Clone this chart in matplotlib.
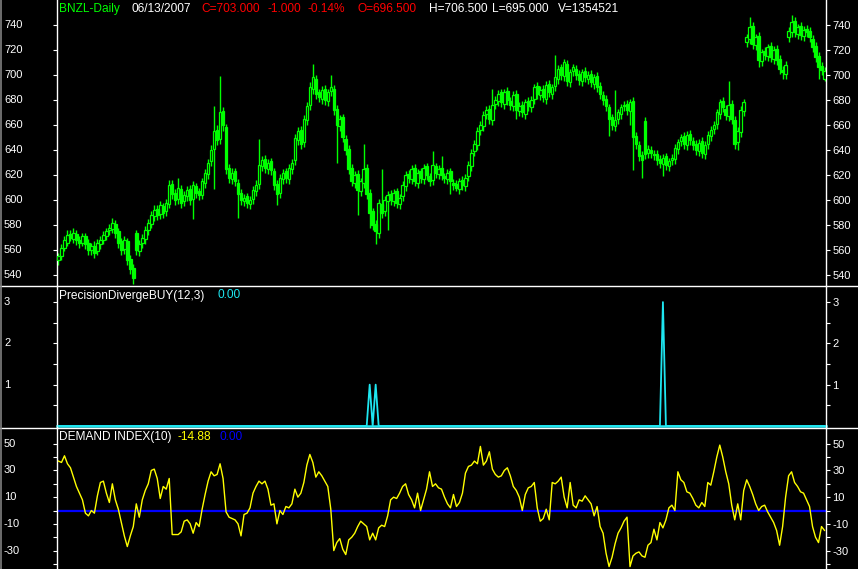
import numpy as np
import matplotlib
matplotlib.use("Agg")
import matplotlib.pyplot as plt
from matplotlib.lines import Line2D
from matplotlib.transforms import blended_transform_factory

# ---------------- data ----------------
opens = [
    552, 555, 562, 566, 573, 569, 573, 568, 566, 571,
    566, 560, 563, 559, 565, 568, 571, 576, 577, 581,
    575, 567, 561, 567, 553, 546, 574, 559, 566, 569,
    576, 581, 587, 593, 589, 595, 591, 597, 613, 606,
    601, 609, 599, 603, 609, 601, 611, 607, 604, 614,
    621, 631, 641, 656, 649, 671, 658, 626, 617, 623,
    614, 606, 599, 603, 597, 601, 607, 613, 627, 633,
    625, 631, 623, 613, 606, 617, 623, 617, 625, 632,
    648, 656, 646, 664, 676, 689, 697, 686, 681, 689,
    679, 687, 689, 673, 659, 666, 649, 641, 626, 614,
    621, 607, 614, 626, 606, 591, 581, 574, 597, 591,
    599, 605, 599, 607, 597, 603, 611, 621, 617, 626,
    614, 623, 617, 627, 619, 616, 627, 621, 626, 619,
    617, 623, 614, 613, 609, 616, 611, 619, 627, 639,
    644, 656, 659, 669, 673, 664, 677, 679, 686, 677,
    687, 679, 675, 685, 671, 676, 669, 679, 674, 681,
    691, 684, 689, 681, 693, 685, 691, 697, 706, 699,
    709, 694, 703, 705, 701, 695, 703, 697, 701, 693,
    699, 691, 684, 681, 674, 666, 659, 665, 669, 675,
    677, 671, 679, 651, 644, 636, 663, 638, 640, 637,
    637, 633, 629, 635, 627, 632, 633, 641, 647, 651,
    644, 653, 647, 645, 639, 647, 637, 645, 651, 657,
    661, 669, 679, 673, 667, 677, 664, 646, 654, 671,
    726, 729, 739, 724, 731, 711, 719, 715, 723, 713,
    721, 713, 704, 701, 730, 734, 743, 733, 739, 731,
    737, 735, 729, 723, 715, 707, 696.5,
]
highs = [
    558, 565, 571, 576, 576, 578, 576, 571, 574, 574,
    569, 566, 567, 569, 571, 575, 578, 581, 586, 584,
    578, 570, 571, 570, 556, 549, 576, 568, 573, 579,
    585, 591, 596, 596, 599, 598, 601, 616, 616, 609,
    618, 612, 607, 611, 612, 615, 614, 610, 618, 625,
    633, 644, 675, 660, 699, 674, 661, 629, 626, 626,
    617, 609, 605, 606, 603, 611, 616, 649, 635, 636,
    633, 634, 626, 616, 621, 625, 626, 629, 633, 653,
    658, 659, 668, 678, 694, 709, 700, 689, 691, 692,
    689, 700, 692, 676, 668, 669, 652, 644, 629, 623,
    624, 618, 645, 629, 609, 594, 584, 601, 625, 603,
    607, 608, 609, 610, 605, 615, 623, 624, 628, 629,
    625, 626, 629, 630, 622, 639, 630, 628, 635, 622,
    625, 626, 617, 616, 618, 619, 621, 631, 641, 648,
    658, 663, 671, 675, 676, 689, 683, 688, 689, 689,
    690, 682, 687, 688, 678, 679, 681, 682, 683, 693,
    694, 691, 692, 695, 696, 693, 716, 708, 709, 713,
    712, 705, 709, 708, 704, 705, 706, 703, 704, 701,
    702, 694, 687, 684, 677, 669, 688, 673, 677, 679,
    680, 681, 682, 654, 647, 639, 666, 644, 643, 640,
    640, 636, 637, 638, 634, 637, 645, 649, 653, 654,
    655, 656, 650, 648, 649, 650, 647, 655, 659, 663,
    673, 681, 682, 676, 695, 680, 667, 658, 675, 681,
    733, 746, 742, 733, 734, 721, 722, 725, 726, 723,
    724, 716, 707, 711, 738, 748, 746, 741, 742, 739,
    740, 738, 732, 726, 718, 710, 706.5,
]
lows = [
    548, 552, 559, 563, 567, 566, 564, 562, 563, 561,
    556, 556, 554, 556, 561, 565, 568, 572, 574, 570,
    562, 556, 557, 548, 541, 533, 556, 555, 562, 565,
    572, 578, 583, 584, 585, 586, 587, 594, 601, 596,
    597, 594, 595, 599, 596, 585, 602, 600, 601, 610,
    617, 627, 609, 644, 645, 655, 621, 614, 613, 611,
    586, 596, 595, 594, 593, 597, 603, 609, 623, 622,
    621, 620, 608, 596, 602, 613, 614, 613, 621, 628,
    644, 641, 642, 660, 672, 685, 681, 678, 677, 676,
    675, 683, 668, 630, 655, 646, 636, 621, 611, 610,
    588, 603, 610, 601, 578, 576, 565, 570, 586, 587,
    576, 596, 595, 594, 593, 599, 607, 614, 613, 611,
    610, 614, 613, 616, 611, 612, 618, 617, 616, 614,
    613, 605, 608, 607, 605, 608, 607, 615, 623, 635,
    640, 652, 655, 665, 661, 660, 673, 675, 674, 673,
    676, 672, 671, 665, 667, 666, 665, 671, 670, 677,
    681, 680, 678, 677, 682, 681, 687, 693, 696, 695,
    691, 690, 699, 696, 692, 691, 694, 693, 690, 689,
    686, 681, 676, 671, 651, 656, 655, 661, 665, 671,
    668, 660, 624, 641, 631, 618, 633, 634, 634, 632,
    628, 626, 619, 624, 623, 628, 629, 637, 643, 641,
    640, 644, 640, 636, 635, 634, 633, 641, 647, 653,
    657, 665, 670, 664, 663, 661, 641, 640, 650, 667,
    722, 725, 721, 720, 706, 707, 712, 711, 710, 709,
    708, 701, 697, 697, 726, 730, 730, 729, 728, 727,
    730, 726, 718, 710, 697, 700, 695,
]
closes = [
    555, 562, 568, 572, 570, 574, 568, 566, 571, 565,
    560, 563, 558, 566, 568, 572, 575, 578, 582, 574,
    566, 560, 568, 552, 545, 538, 560, 565, 570, 576,
    582, 588, 592, 588, 596, 590, 598, 612, 605, 600,
    610, 598, 604, 608, 600, 612, 606, 604, 615, 622,
    630, 640, 655, 648, 670, 660, 625, 618, 622, 615,
    605, 600, 602, 598, 600, 608, 612, 628, 632, 626,
    630, 624, 612, 605, 618, 622, 618, 626, 630, 650,
    655, 645, 665, 675, 690, 698, 685, 682, 688, 680,
    686, 690, 672, 660, 665, 650, 640, 625, 615, 620,
    608, 615, 625, 605, 590, 580, 575, 598, 590, 600,
    604, 600, 606, 598, 602, 612, 620, 618, 625, 615,
    622, 618, 626, 620, 615, 628, 622, 625, 620, 618,
    622, 615, 612, 610, 615, 612, 618, 628, 638, 645,
    655, 660, 668, 672, 665, 676, 680, 685, 678, 686,
    680, 676, 684, 672, 675, 670, 678, 675, 680, 690,
    685, 688, 682, 692, 686, 690, 698, 705, 700, 710,
    695, 702, 706, 700, 696, 702, 698, 700, 694, 698,
    690, 685, 680, 675, 665, 660, 664, 670, 674, 676,
    672, 678, 650, 645, 635, 632, 637, 641, 638, 636,
    632, 630, 634, 628, 631, 634, 642, 646, 650, 645,
    652, 648, 644, 640, 646, 638, 644, 652, 656, 660,
    670, 678, 674, 668, 676, 665, 645, 655, 672, 678,
    730, 738, 725, 730, 712, 718, 716, 722, 714, 720,
    712, 705, 702, 708, 735, 742, 734, 738, 732, 736,
    734, 730, 722, 714, 706, 704, 703,
]
demand_index = [
    37, 36, 41, 35, 32, 25, 18, 13, 8, -2,
    -4, 0, -2, 11, 21, 22, 13, 6, 20, 8,
    1, -9, -19, -27, -19, -12, 5, -5, 8, 15,
    20, 30, 31, 24, 9, 18, 16, 24, -18, -18,
    -18, -16, -8, -7, -10, -17, -9, -12, 1, 12,
    22, 29, 26, 27, 35, 24, -1, -5, -6, -7,
    -10, -19, -3, -2, 2, 13, 18, 22, 20, 22,
    16, 4, 5, -10, 0, -3, 3, 2, 5, 16,
    10, 13, 21, 34, 42, 36, 25, 29, 26, 22,
    18, 1, -30, -24, -21, -29, -33, -22, -20, -17,
    -12, -8, -10, -12, -22, -17, -22, -13, -11, -12,
    -4, 8, 10, 9, 13, 18, 20, 12, 8, 2,
    13, 0, 8, 16, 29, 18, 20, 17, 16, 10,
    5, 2, 12, 3, 6, 13, 28, 33, 34, 37,
    35, 48, 34, 37, 44, 31, 27, 25, 26, 30,
    32, 26, 18, 15, 10, 0, 12, 17, 18, 21,
    2, -8, -6, 1, -7, 21, 20, 22, 25, 10,
    2, 21, 4, 2, 8, 7, 11, 8, 5, -4,
    3, -12, -17, -32, -42, -35, -25, -17, -13, -8,
    -5, -42, -34, -32, -31, -34, -35, -26, -24, -14,
    -22, -9, -13, -7, 2, 4, 0, 29, 23, 21,
    14, 13, 9, 4, 2, 6, 3, 21, 19, 29,
    40, 49, 40, 29, 20, 4, -7, 5, -7, 15,
    23, 18, 12, 5, 0, 3, 4, -1, -5, -9,
    -15, -26, -12, 10, 26, 29, 21, 18, 14, 13,
    8, 3, -12, -20, -24, -12, -14.88,
]
pdb_bars = [104, 106, 202]
pdb_values = [1, 1, 3]

price_ticks = [540, 560, 580, 600, 620, 640, 660, 680, 700, 720, 740]
pdb_ticks = [1, 2, 3]
pdb_minor = [0.5, 1.5, 2.5]
di_ticks = [-30, -10, 10, 30, 50]
di_minor = [-40, -20, 0, 20, 40]

# ---------------- styling ----------------
FONT = "Liberation Sans"
GREEN = "#00FF00"
CYAN = "#1EE6F0"
YELLOW = "#FFFF00"
BLUE = "#0000FF"
RED = "#FF0000"
WHITE = "#FFFFFF"

W_PX, H_PX = 858, 569
n = len(closes)
x = np.arange(n)
o = np.array(opens, float)
c = np.array(closes, float)
h = np.array(highs, float)
l = np.array(lows, float)
pdb = np.zeros(n)
pdb[pdb_bars] = pdb_values
di = np.array(demand_index, float)

fig = plt.figure(figsize=(W_PX / 100, H_PX / 100), dpi=100, facecolor="black")

left = 57 / W_PX
width = (826 - 57) / W_PX
ax1 = fig.add_axes([left, 1 - 286 / H_PX, width, 286 / H_PX])
ax2 = fig.add_axes([left, 1 - 428 / H_PX, width, 142 / H_PX])
ax3 = fig.add_axes([left, 0, width, 141 / H_PX])


def style(ax, ylim, major, minor, labels):
    ax.set_facecolor("black")
    ax.set_xlim(-0.5, n - 0.5)
    ax.set_ylim(*ylim)
    ax.set_xticks([])
    for s in ("top", "bottom"):
        ax.spines[s].set_visible(False)
    for s in ("left", "right"):
        ax.spines[s].set_color(WHITE)
        ax.spines[s].set_linewidth(1.0)
    ax.set_yticks(major)
    ax.set_yticklabels(labels)
    if minor:
        ax.set_yticks(minor, minor=True)
    ax.tick_params(axis="y", which="both", left=True, right=True,
                   labelleft=False, labelright=True, direction="out",
                   length=3.2, width=0.8, color=WHITE, labelcolor=WHITE,
                   pad=1.2, labelsize=8)
    for t in ax.get_yticklabels():
        t.set_fontfamily(FONT)
    tr = blended_transform_factory(fig.transFigure, ax.transData)
    for v, lab in zip(major, labels):
        ax.text(4 / W_PX, v, lab, transform=tr, ha="left", va="center",
                color=WHITE, fontsize=8, fontfamily=FONT, clip_on=False)


style(ax1, (531.2, 760), price_ticks, None, [str(v) for v in price_ticks])
style(ax2, (-0.05, 3.39), pdb_ticks, pdb_minor, [str(v) for v in pdb_ticks])
style(ax3, (-43.8, 61.8), di_ticks, di_minor, [str(v) for v in di_ticks])

# ---- price candles ----
ax1.vlines(x, l, h, color=GREEN, linewidth=1.0, zorder=2)
up = c >= o
body_lo = np.minimum(o, c)
body_h = np.maximum(np.abs(c - o), 0.8)
ax1.bar(x[up], body_h[up], bottom=body_lo[up], width=0.85,
        facecolor="black", edgecolor=GREEN, linewidth=0.9, zorder=3)
ax1.bar(x[~up], body_h[~up], bottom=body_lo[~up], width=0.85,
        facecolor=GREEN, edgecolor=GREEN, linewidth=0.9, zorder=3)

# ---- PrecisionDivergeBUY ----
ax2.plot(x, pdb, color=CYAN, linewidth=1.3, clip_on=False, zorder=3)
ax2.axhline(0, color=CYAN, linewidth=1.8, zorder=2, clip_on=False)

# ---- Demand Index ----
ax3.axhline(0, color=BLUE, linewidth=1.6, zorder=2)
ax3.plot(x, di, color=YELLOW, linewidth=1.0, zorder=3)

# ---- dividers and frame ----
for ypx in (286, 428):
    fig.add_artist(Line2D([0, 1], [1 - ypx / H_PX] * 2, transform=fig.transFigure,
                          color=WHITE, linewidth=1.0))
fig.add_artist(Line2D([0.6 / W_PX] * 2, [0, 1], transform=fig.transFigure,
                      color="#808080", linewidth=1.2))


def ftext(xpx, ypx, s, color):
    fig.text(xpx / W_PX, 1 - ypx / H_PX, s, color=color, fontsize=8.6,
             fontfamily=FONT, ha="left", va="baseline")


# header
ftext(59, 12, "BNZL-Daily", GREEN)
ftext(132, 12, "06/13/2007", WHITE)
ftext(201, 12, "C=703.000", RED)
ftext(267, 12, "-1.000", RED)
ftext(308, 12, "-0.14%", RED)
ftext(357, 12, "O=696.500", RED)
ftext(429, 12, "H=706.500", WHITE)
ftext(492, 12, "L=695.000", WHITE)
ftext(558, 12, "V=1354521", WHITE)

# panel titles
ftext(59, 298.5, "PrecisionDivergeBUY(12,3)", WHITE)
ftext(217, 298.5, "0.00", CYAN)
ftext(59, 440, "DEMAND INDEX(10)", WHITE)
ftext(178, 440, "-14.88", YELLOW)
ftext(220, 440, "0.00", BLUE)

fig.savefig("out.png", dpi=100, facecolor="black")
